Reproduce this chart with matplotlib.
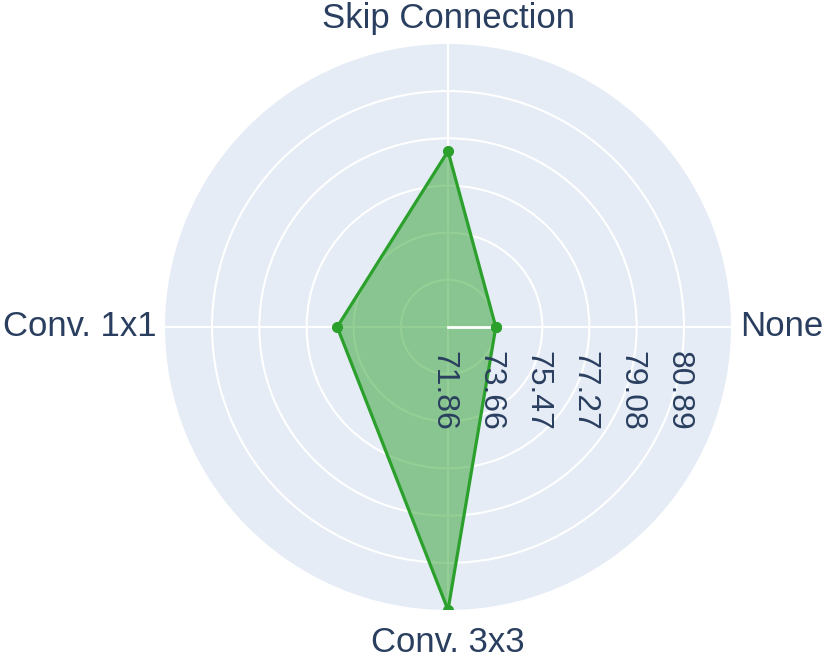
import numpy as np
import matplotlib
matplotlib.use('Agg')
import matplotlib.pyplot as plt

plt.rcParams['font.family'] = ['Liberation Sans', 'DejaVu Sans']

# data
categories = ['None', 'Skip Connection', 'Conv. 1x1', 'Conv. 3x3']
scores = [73.69, 78.59, 76.10, 82.69]
r_ticks = [71.86, 73.66, 75.47, 77.27, 79.08, 80.89]
r_min, r_max = 71.86, 82.69

bg = '#e5ecf6'
green = '#2ca02c'
txt = '#2a3f5f'

fig = plt.figure(figsize=(8.3, 6.59), dpi=100)
ax = fig.add_axes([165 / 830, 1 - 610 / 659, 566 / 830, 566 / 659], projection='polar')
ax.set_facecolor(bg)
ax.spines['polar'].set_visible(False)
ax.set_axisbelow(True)

theta = np.linspace(0, 2 * np.pi, len(categories), endpoint=False)
th_closed = np.append(theta, theta[0])
r_closed = np.append(scores, scores[0])

ax.fill(th_closed, r_closed, color=green, alpha=0.5, lw=0, zorder=2)
ax.plot([0, 0], [r_min, scores[0]], color='white', lw=2, zorder=2.5)
ax.plot(th_closed, r_closed, color=green, lw=2.3, marker='o', ms=7, zorder=3)

ax.set_ylim(r_min, r_max)
ax.set_yticks(r_ticks)
ax.set_yticklabels([])
ax.set_xticks(theta)
ax.set_xticklabels([])
ax.grid(True, color='white', lw=1.5)

# radial tick labels, rotated along the 0 deg axis
for t in r_ticks:
    ax.annotate('{:.2f}'.format(t), xy=(0, t), xytext=(-5, -64),
                textcoords='offset pixels', rotation=-90,
                ha='center', va='center', fontsize=23, color=txt)

# category labels
offsets = [((9, 0), 'left', 'center'),
           ((0, 9), 'center', 'bottom'),
           ((-8, 0), 'right', 'center'),
           ((0, -16), 'center', 'top')]
for th, name, (off, ha, va) in zip(theta, categories, offsets):
    ax.annotate(name, xy=(th, r_max), xytext=off, textcoords='offset pixels',
                ha=ha, va=va, fontsize=25, color=txt, annotation_clip=False)

plt.savefig('out.png', dpi=100)
